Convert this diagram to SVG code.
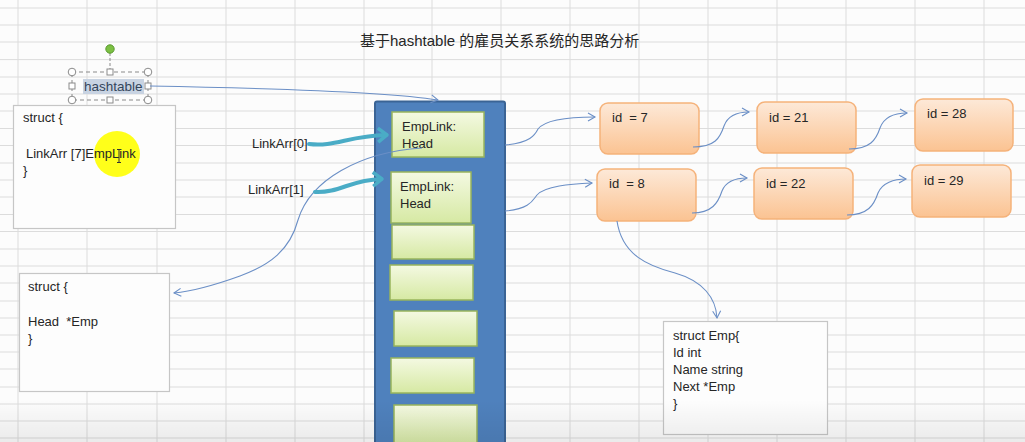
<svg xmlns="http://www.w3.org/2000/svg" width="1025" height="442" viewBox="0 0 1025 442">
<style>
.t{font-family:"Liberation Sans","Noto Sans CJK SC",sans-serif;font-size:13px;fill:#262626;white-space:pre}
.card{fill:#fdfdfd;stroke:#c6c6c6;stroke-width:1.2}
.grn{fill:url(#gg);stroke:#98b45c;stroke-width:1.5}
.org{fill:url(#og);stroke:#f5b27a;stroke-width:1.5}
.thin{fill:none;stroke:#6b8fc6;stroke-width:1.1;marker-end:url(#open)}
.thick{fill:none;stroke:#4aacc6;stroke-width:4;stroke-linecap:round;marker-end:url(#chev)}
.grid{stroke:#dcdcdc;stroke-width:1}
.hd{fill:#fff;stroke:#8a8a8a;stroke-width:1}
</style>
<defs>
<linearGradient id="gg" x1="0" y1="0" x2="0" y2="1"><stop offset="0" stop-color="#f4f9e2"/><stop offset="1" stop-color="#d6e9a3"/></linearGradient>
<linearGradient id="og" x1="0" y1="0" x2="0" y2="1"><stop offset="0" stop-color="#fde9d8"/><stop offset="1" stop-color="#fbc392"/></linearGradient>
<linearGradient id="fade" x1="0" y1="0" x2="0" y2="1"><stop offset="0" stop-color="#000" stop-opacity="0"/><stop offset="1" stop-color="#000" stop-opacity="0.07"/></linearGradient>
<marker id="open" markerWidth="10" markerHeight="10" refX="8" refY="5" orient="auto" markerUnits="userSpaceOnUse"><path d="M1,1 L8,5 L1,9" fill="none" stroke="#6b8fc6" stroke-width="1.1"/></marker>
<marker id="chev" markerWidth="16" markerHeight="20" refX="10" refY="10" orient="auto" markerUnits="userSpaceOnUse"><path d="M2,3 L11,10 L2,17" fill="none" stroke="#4aacc6" stroke-width="3.5" stroke-linejoin="round"/></marker>
</defs>
<rect width="1025" height="442" fill="#fcfcfc"/>
<g id="grid">
<path class="grid" d="M18,0V442M87,0V442M157,0V442M226,0V442M295,0V442M364,0V442M432,0V442M501,0V442M570,0V442M639,0V442M708,0V442M777,0V442M846,0V442M915,0V442M984,0V442"/>
<path class="grid" d="M0,8H1025M0,25H1025M0,42H1025M0,59.6H1025M0,77H1025M0,94H1025M0,111H1025M0,128.5H1025M0,145.5H1025M0,163H1025M0,180H1025M0,197H1025M0,214.5H1025M0,231.5H1025M0,249H1025M0,266H1025M0,283H1025M0,301H1025M0,318H1025M0,335H1025M0,352H1025M0,369H1025M0,387H1025M0,404H1025M0,421H1025M0,438H1025"/>
</g>
<text class="t" x="360" y="46" style="font-size:15px">基于hashtable 的雇员关系系统的思路分析</text>

<g id="hashtable">
<rect x="83" y="79" width="61" height="15" fill="#c8d3e2"/>
<text class="t" x="84" y="91" style="font-size:13.5px;fill:#34465c">hashtable</text>
<rect x="72" y="72" width="76" height="28" fill="none" stroke="#8a8a8a" stroke-dasharray="4,3"/>
<line x1="110" y1="53" x2="110" y2="70" stroke="#8a8a8a" stroke-dasharray="3,2"/>
<circle cx="110" cy="49" r="4.2" fill="#7cc043" stroke="#5a9a30"/>
<circle class="hd" cx="72" cy="72" r="3.8"/><circle class="hd" cx="148" cy="72" r="3.8"/>
<circle class="hd" cx="72" cy="100" r="3.8"/><circle class="hd" cx="148" cy="100" r="3.8"/>
<rect class="hd" x="107" y="69" width="6" height="6"/><rect class="hd" x="107" y="97" width="6" height="6"/>
<rect class="hd" x="69" y="83" width="6" height="6"/><rect class="hd" x="145" y="83" width="6" height="6"/>
</g>

<g id="struct-hashtable">
<rect class="card" x="13.5" y="105.5" width="162" height="123"/>
<circle cx="117" cy="154" r="23" fill="#ffff1a"/>
<text class="t" x="23" y="122">struct {</text>
<text class="t" x="26" y="158">LinkArr [7]EmpLink</text>
<text class="t" x="23" y="175">}</text>
<path d="M117,149.5h4M119,149.5v13M117,162.5h4" stroke="#333" stroke-width="1" fill="none"/>
</g>

<g id="struct-emplink">
<rect class="card" x="19.5" y="273.5" width="150" height="118"/>
<text class="t" x="28" y="291">struct {</text>
<text class="t" x="28" y="326">Head  *Emp</text>
<text class="t" x="28" y="343">}</text>
</g>

<g id="labels">
<text class="t" x="252" y="148">LinkArr[0]</text>
<text class="t" x="248" y="194">LinkArr[1]</text>
</g>

<g id="array">
<rect x="375" y="101.5" width="130" height="350" rx="2" fill="#4f81bd" stroke="#3b6495" stroke-width="2"/>
<rect class="grn" x="392" y="112" width="92" height="45"/>
<rect class="grn" x="391" y="172" width="80" height="51"/>
<rect class="grn" x="392" y="225" width="82" height="34"/>
<rect class="grn" x="390" y="265" width="83" height="35"/>
<rect class="grn" x="394" y="311" width="83" height="35"/>
<rect class="grn" x="391" y="358" width="83" height="35"/>
<rect class="grn" x="394" y="405" width="83" height="40"/>
<text class="t" x="402" y="131">EmpLink:</text>
<text class="t" x="402" y="148">Head</text>
<text class="t" x="400" y="191">EmpLink:</text>
<text class="t" x="400" y="208">Head</text>
</g>

<g id="emps">
<rect class="org" x="600" y="103" width="99" height="51" rx="8"/>
<text class="t" x="612" y="122">id  = 7</text>
<rect class="org" x="757" y="102" width="99" height="51" rx="8"/>
<text class="t" x="769" y="122">id = 21</text>
<rect class="org" x="915" y="99" width="98" height="52" rx="8"/>
<text class="t" x="927" y="118">id = 28</text>
<rect class="org" x="597" y="169" width="99" height="52" rx="8"/>
<text class="t" x="609" y="188">id  = 8</text>
<rect class="org" x="754" y="168" width="99" height="51" rx="8"/>
<text class="t" x="766" y="188">id = 22</text>
<rect class="org" x="912" y="165" width="99" height="52" rx="8"/>
<text class="t" x="924" y="185">id = 29</text>
</g>

<g id="struct-emp">
<rect class="card" x="663.5" y="321.5" width="164" height="113"/>
<text class="t" x="673" y="340">struct Emp{</text>
<text class="t" x="673" y="357">Id int</text>
<text class="t" x="673" y="374">Name string</text>
<text class="t" x="673" y="391">Next *Emp</text>
<text class="t" x="673" y="408">}</text>
</g>

<g id="connectors">
<path class="thin" d="M150,86 C260,88 390,92 438,100"/>
<path class="thin" d="M422,148 C360,152 310,180 298,220 C290,250 270,265 240,276 C215,285 195,291 174,293"/>
<path class="thick" d="M309,144 C335,147 348,136 386,135"/>
<path class="thick" d="M315,192 C340,193 350,180 381,179"/>
<path class="thin" d="M505,145 C530,143 535,135 538,129 C545,120 570,117 595,117"/>
<path class="thin" d="M505,211 C530,209 533,200 537,195 C545,186 570,184 592,183"/>
<path class="thin" d="M693,147 C715,147 720,138 724,126 C728,115 738,112 749,112"/>
<path class="thin" d="M849,149 C870,149 876,140 880,128 C884,117 895,113 907,113"/>
<path class="thin" d="M692,213 C712,213 718,203 722,191 C726,181 736,178 747,178"/>
<path class="thin" d="M847,215 C868,215 874,205 878,193 C882,183 894,179 906,179"/>
<path class="thin" d="M617,221 C622,255 648,266 675,273 C703,281 716,298 717,318"/>
</g>
<rect x="0" y="400" width="1025" height="42" fill="url(#fade)"/>
</svg>
